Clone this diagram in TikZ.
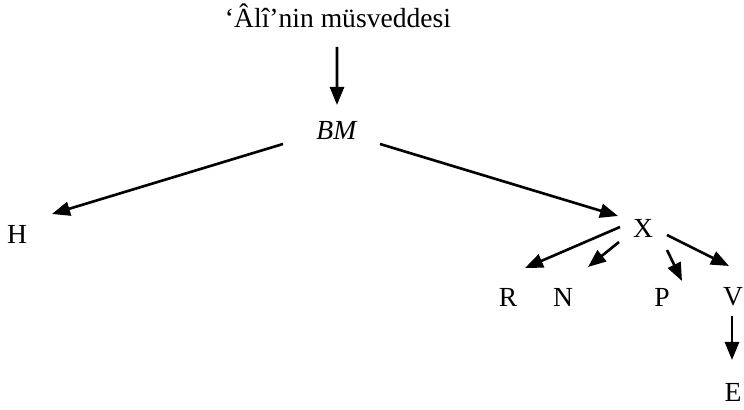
\documentclass[tikz,border=0pt]{standalone}
\usepackage{fontspec}
\setmainfont{Liberation Serif}
\usepackage{tikz}
\usetikzlibrary{arrows.meta,positioning}

\tikzset{
    arr/.style={line width=1.5pt,-{Triangle[length=0.36cm,width=0.28cm]}},
    lbl/.style={inner sep=0pt,font=\fontsize{15.7}{19}\selectfont}
}

\begin{document}
\begin{tikzpicture}
    \useasboundingbox (0,0) rectangle (14.88,8.2);
    \node[lbl] (title) at (6.76,7.88) {‘Âlî’nin müsveddesi};
    \node[lbl] (bm) at (6.74,5.58) {\textit{BM}};
    \node[lbl] (h) at (0.34,3.52) {H};
    \node[lbl] (x) at (12.86,3.64) {X};
    \node[lbl] (r) at (10.16,2.26) {R};
    \node[lbl] (n) at (11.26,2.26) {N};
    \node[lbl] (p) at (13.24,2.26) {P};
    \node[lbl] (v) at (14.66,2.26) {V};
    \node[lbl] (e) at (14.66,0.36) {E};
    \draw[arr] ([xshift=-0.02cm,yshift=-0.62cm]title.center) -- ([yshift=0.52cm]bm.center);
    \draw[arr] ([xshift=-1.08cm,yshift=-0.26cm]bm.center) -- ([xshift=0.7cm,yshift=0.4cm]h.center);
    \draw[arr] ([xshift=0.86cm,yshift=-0.26cm]bm.center) -- ([xshift=-0.5cm,yshift=0.24cm]x.center);
    \draw[arr] ([xshift=-0.46cm,yshift=0.02cm]x.center) -- ([xshift=0.34cm,yshift=0.58cm]r.center);
    \draw[arr] ([xshift=-0.48cm,yshift=-0.28cm]x.center) -- ([xshift=0.5cm,yshift=0.6cm]n.center);
    \draw[arr] ([xshift=0.48cm,yshift=-0.44cm]x.center) -- ([xshift=0.4cm,yshift=0.32cm]p.center);
    \draw[arr] ([xshift=0.48cm,yshift=-0.14cm]x.center) -- ([xshift=-0.08cm,yshift=0.62cm]v.center);
    \draw[arr] ([xshift=-0.02cm,yshift=-0.38cm]v.center) -- ([xshift=-0.02cm,yshift=0.64cm]e.center);
\end{tikzpicture}
\end{document}
